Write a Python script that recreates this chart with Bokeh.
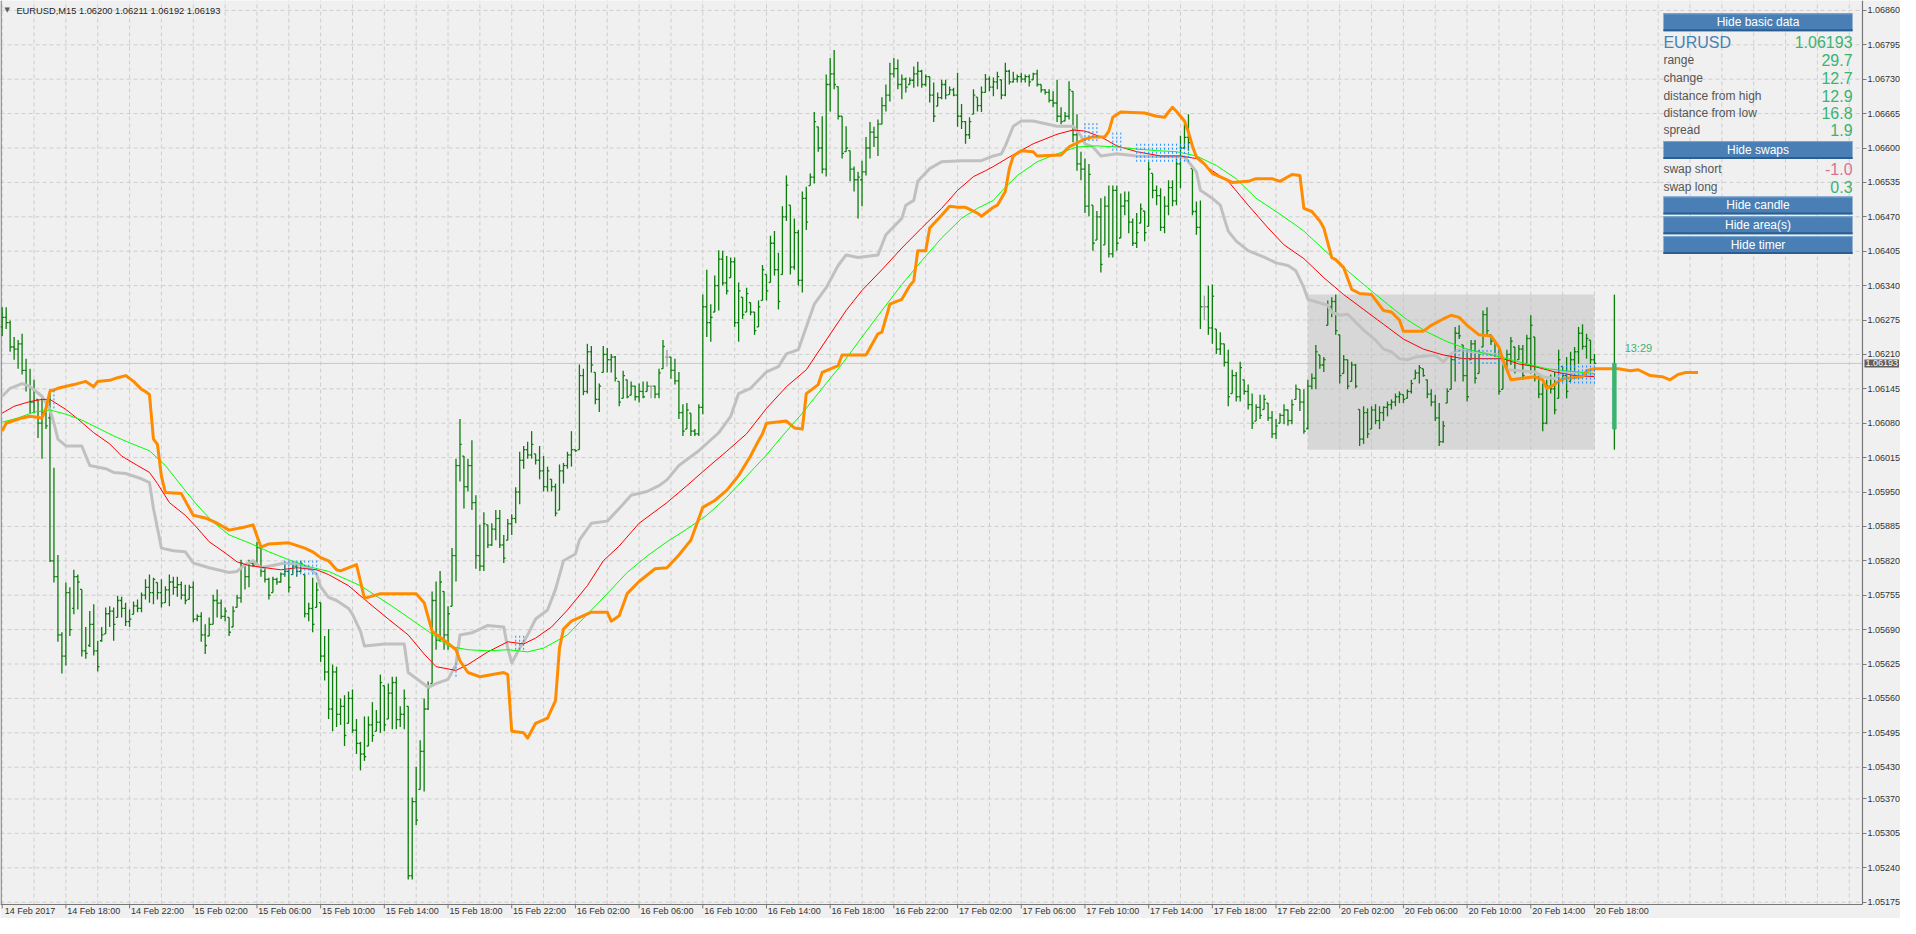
from bokeh.plotting import figure
from bokeh.models import (ColumnDataSource, FixedTicker, PrintfTickFormatter, Label, Range1d)
from bokeh.embed import file_html
from bokeh.resources import INLINE

# ---------------- data: EURUSD M15 bars (14 Feb 14:00 .. 20 Feb 18:00) ----------------
OPEN = [
1.06262,1.06280,1.06270,1.06224,1.06220,1.06230,1.06180,1.06150,1.06120,1.06125,
1.06080,1.06100,1.06090,1.05820,1.05790,1.05680,1.05640,1.05760,1.05730,1.05790,
1.05766,1.05650,1.05660,1.05700,1.05650,1.05669,1.05682,1.05720,1.05725,1.05713,
1.05745,1.05730,1.05705,1.05719,1.05735,1.05730,1.05755,1.05770,1.05760,1.05779,
1.05760,1.05741,1.05765,1.05780,1.05770,1.05775,1.05755,1.05747,1.05770,1.05710,
1.05715,1.05680,1.05678,1.05700,1.05745,1.05740,1.05715,1.05713,1.05695,1.05732,
1.05750,1.05813,1.05790,1.05815,1.05813,1.05844,1.05800,1.05785,1.05760,1.05785,
1.05780,1.05795,1.05800,1.05794,1.05810,1.05800,1.05794,1.05720,1.05730,1.05732,
1.05741,1.05640,1.05610,1.05540,1.05610,1.05530,1.05545,1.05513,1.05560,1.05500,
1.05475,1.05455,1.05470,1.05510,1.05498,1.05515,1.05584,1.05521,1.05570,1.05590,
1.05520,1.05530,1.05545,1.05225,1.05365,1.05388,1.05460,1.05540,1.05588,1.05745,
1.05670,1.05762,1.05680,1.05734,1.05830,1.06000,1.06018,1.05960,1.06000,1.05930,
1.05830,1.05810,1.05888,1.05850,1.05880,1.05900,1.05850,1.05859,1.05890,1.05900,
1.05950,1.06010,1.06030,1.06020,1.06022,1.06010,1.05990,1.05960,1.05974,1.05960,
1.05916,1.05990,1.06000,1.06020,1.06030,1.06030,1.06170,1.06140,1.06215,1.06176,
1.06125,1.06176,1.06210,1.06200,1.06205,1.06159,1.06127,1.06162,1.06133,1.06150,
1.06130,1.06140,1.06140,1.06150,1.06150,1.06135,1.06183,1.06205,1.06205,1.06180,
1.06160,1.06100,1.06069,1.06099,1.06065,1.06060,1.06110,1.06300,1.06270,1.06290,
1.06340,1.06390,1.06345,1.06355,1.06385,1.06270,1.06318,1.06290,1.06308,1.06290,
1.06262,1.06312,1.06361,1.06346,1.06420,1.06370,1.06361,1.06470,1.06492,1.06375,
1.06440,1.06350,1.06505,1.06529,1.06545,1.06640,1.06600,1.06560,1.06720,1.06740,
1.06716,1.06660,1.06593,1.06595,1.06560,1.06540,1.06540,1.06555,1.06600,1.06630,
1.06620,1.06645,1.06680,1.06700,1.06740,1.06750,1.06720,1.06730,1.06720,1.06728,
1.06740,1.06745,1.06720,1.06735,1.06700,1.06679,1.06695,1.06720,1.06701,1.06710,
1.06700,1.06660,1.06650,1.06625,1.06664,1.06696,1.06680,1.06705,1.06730,1.06715,
1.06725,1.06729,1.06700,1.06745,1.06725,1.06730,1.06735,1.06730,1.06735,1.06729,
1.06740,1.06720,1.06710,1.06705,1.06690,1.06685,1.06660,1.06651,1.06660,1.06707,
1.06625,1.06570,1.06560,1.06490,1.06492,1.06426,1.06470,1.06417,1.06490,1.06400,
1.06520,1.06430,1.06490,1.06500,1.06460,1.06420,1.06458,1.06481,1.06452,1.06552,
1.06520,1.06510,1.06450,1.06490,1.06525,1.06500,1.06570,1.06600,1.06620,1.06561,
1.06480,1.06450,1.06300,1.06300,1.06260,1.06258,1.06220,1.06230,1.06195,1.06136,
1.06170,1.06130,1.06162,1.06140,1.06115,1.06084,1.06110,1.06106,1.06118,1.06090,
1.06060,1.06080,1.06095,1.06105,1.06085,1.06125,1.06144,1.06120,1.06070,1.06150,
1.06165,1.06209,1.06190,1.06265,1.06300,1.06310,1.06247,1.06174,1.06200,1.06159,
1.06190,1.06106,1.06050,1.06100,1.06069,1.06105,1.06085,1.06100,1.06110,1.06115,
1.06120,1.06130,1.06134,1.06127,1.06140,1.06164,1.06175,1.06183,1.06162,1.06135,
1.06120,1.06090,1.06045,1.06118,1.06144,1.06200,1.06250,1.06228,1.06170,1.06200,
1.06230,1.06174,1.06224,1.06285,1.06247,1.06235,1.06210,1.06144,1.06190,1.06210,
1.06224,1.06200,1.06220,1.06192,1.06240,1.06243,1.06165,1.06135,1.06080,1.06150,
1.06145,1.06127,1.06187,1.06170,1.06159,1.06200,1.06215,1.06250,1.06225,1.06237,
1.06200]
HIGH = [
1.06299,1.06299,1.06274,1.06243,1.06237,1.06249,1.06202,1.06183,1.06162,1.06125,
1.06131,1.06121,1.06144,1.05996,1.05831,1.05685,1.05779,1.05770,1.05803,1.05794,
1.05766,1.05695,1.05725,1.05738,1.05669,1.05695,1.05732,1.05734,1.05732,1.05754,
1.05752,1.05741,1.05728,1.05743,1.05747,1.05760,1.05785,1.05794,1.05788,1.05779,
1.05785,1.05772,1.05794,1.05790,1.05790,1.05781,1.05775,1.05775,1.05781,1.05719,
1.05723,1.05700,1.05713,1.05756,1.05766,1.05747,1.05732,1.05713,1.05734,1.05756,
1.05822,1.05813,1.05822,1.05822,1.05856,1.05844,1.05807,1.05788,1.05790,1.05788,
1.05798,1.05813,1.05807,1.05817,1.05817,1.05820,1.05794,1.05741,1.05788,1.05779,
1.05741,1.05678,1.05691,1.05624,1.05620,1.05560,1.05566,1.05573,1.05577,1.05521,
1.05478,1.05526,1.05526,1.05553,1.05538,1.05605,1.05584,1.05588,1.05601,1.05601,
1.05545,1.05577,1.05545,1.05373,1.05431,1.05481,1.05560,1.05592,1.05762,1.05781,
1.05801,1.05762,1.05734,1.05844,1.06013,1.06088,1.06018,1.06013,1.06048,1.05944,
1.05888,1.05912,1.05888,1.05891,1.05916,1.05916,1.05869,1.05899,1.05908,1.05959,
1.06026,1.06037,1.06045,1.06065,1.06022,1.06037,1.06018,1.05998,1.05974,1.05966,
1.06002,1.06005,1.06026,1.06065,1.06030,1.06191,1.06183,1.06230,1.06226,1.06176,
1.06155,1.06226,1.06222,1.06211,1.06207,1.06159,1.06179,1.06162,1.06159,1.06151,
1.06155,1.06159,1.06159,1.06151,1.06151,1.06183,1.06237,1.06219,1.06205,1.06202,
1.06177,1.06116,1.06118,1.06099,1.06069,1.06116,1.06323,1.06370,1.06305,1.06359,
1.06407,1.06406,1.06396,1.06393,1.06393,1.06346,1.06318,1.06336,1.06308,1.06290,
1.06312,1.06379,1.06361,1.06434,1.06443,1.06402,1.06490,1.06548,1.06492,1.06467,
1.06445,1.06518,1.06527,1.06552,1.06668,1.06640,1.06660,1.06739,1.06770,1.06785,
1.06716,1.06660,1.06641,1.06595,1.06565,1.06555,1.06576,1.06621,1.06649,1.06640,
1.06654,1.06696,1.06720,1.06761,1.06770,1.06767,1.06739,1.06733,1.06733,1.06754,
1.06763,1.06748,1.06739,1.06735,1.06724,1.06705,1.06729,1.06729,1.06716,1.06714,
1.06742,1.06683,1.06651,1.06658,1.06711,1.06696,1.06716,1.06740,1.06735,1.06733,
1.06744,1.06729,1.06761,1.06748,1.06744,1.06739,1.06742,1.06739,1.06739,1.06742,
1.06748,1.06720,1.06711,1.06711,1.06707,1.06729,1.06677,1.06668,1.06726,1.06707,
1.06664,1.06593,1.06580,1.06570,1.06492,1.06481,1.06505,1.06509,1.06529,1.06529,
1.06529,1.06514,1.06518,1.06518,1.06467,1.06477,1.06495,1.06481,1.06574,1.06552,
1.06529,1.06524,1.06509,1.06539,1.06539,1.06580,1.06623,1.06645,1.06664,1.06561,
1.06499,1.06501,1.06321,1.06340,1.06342,1.06258,1.06252,1.06230,1.06219,1.06181,
1.06177,1.06196,1.06162,1.06153,1.06136,1.06116,1.06134,1.06134,1.06118,1.06103,
1.06088,1.06099,1.06116,1.06106,1.06125,1.06153,1.06144,1.06144,1.06162,1.06174,
1.06228,1.06209,1.06205,1.06312,1.06318,1.06323,1.06247,1.06209,1.06200,1.06196,
1.06192,1.06106,1.06112,1.06108,1.06112,1.06116,1.06112,1.06112,1.06121,1.06125,
1.06136,1.06140,1.06134,1.06144,1.06162,1.06181,1.06190,1.06183,1.06162,1.06144,
1.06134,1.06118,1.06084,1.06146,1.06211,1.06262,1.06265,1.06228,1.06219,1.06237,
1.06237,1.06219,1.06293,1.06299,1.06247,1.06237,1.06219,1.06202,1.06219,1.06243,
1.06224,1.06228,1.06228,1.06247,1.06284,1.06243,1.06174,1.06155,1.06162,1.06172,
1.06177,1.06219,1.06187,1.06205,1.06215,1.06224,1.06262,1.06267,1.06249,1.06237,
1.06211]
LOW = [
1.06245,1.06258,1.06215,1.06200,1.06183,1.06172,1.06140,1.06099,1.06099,1.06052,
1.06013,1.06069,1.05818,1.05779,1.05667,1.05607,1.05622,1.05678,1.05719,1.05728,
1.05639,1.05635,1.05657,1.05641,1.05611,1.05667,1.05682,1.05695,1.05669,1.05713,
1.05713,1.05697,1.05695,1.05719,1.05723,1.05723,1.05747,1.05741,1.05738,1.05747,
1.05732,1.05741,1.05734,1.05756,1.05752,1.05747,1.05738,1.05747,1.05704,1.05706,
1.05667,1.05644,1.05678,1.05700,1.05713,1.05710,1.05706,1.05678,1.05695,1.05732,
1.05741,1.05766,1.05770,1.05809,1.05813,1.05790,1.05779,1.05747,1.05760,1.05775,
1.05779,1.05790,1.05760,1.05794,1.05790,1.05798,1.05713,1.05706,1.05685,1.05732,
1.05629,1.05594,1.05521,1.05498,1.05506,1.05510,1.05470,1.05513,1.05495,1.05455,
1.05424,1.05442,1.05470,1.05478,1.05498,1.05495,1.05498,1.05521,1.05502,1.05502,
1.05506,1.05502,1.05218,1.05218,1.05321,1.05388,1.05384,1.05538,1.05588,1.05652,
1.05667,1.05652,1.05652,1.05734,1.05781,1.05970,1.05919,1.05951,1.05916,1.05805,
1.05801,1.05801,1.05844,1.05848,1.05859,1.05844,1.05816,1.05859,1.05869,1.05891,
1.05927,1.05994,1.06013,1.06013,1.06002,1.05974,1.05951,1.05951,1.05951,1.05904,
1.05916,1.05966,1.05994,1.05998,1.06026,1.06030,1.06133,1.06136,1.06176,1.06116,
1.06101,1.06176,1.06176,1.06176,1.06159,1.06112,1.06127,1.06127,1.06133,1.06123,
1.06119,1.06127,1.06140,1.06127,1.06127,1.06127,1.06183,1.06187,1.06164,1.06153,
1.06088,1.06056,1.06069,1.06056,1.06056,1.06056,1.06097,1.06243,1.06234,1.06290,
1.06293,1.06340,1.06323,1.06355,1.06262,1.06234,1.06277,1.06290,1.06284,1.06247,
1.06262,1.06312,1.06312,1.06346,1.06359,1.06295,1.06361,1.06462,1.06361,1.06370,
1.06340,1.06327,1.06445,1.06529,1.06533,1.06593,1.06552,1.06546,1.06669,1.06711,
1.06654,1.06580,1.06593,1.06537,1.06518,1.06467,1.06490,1.06548,1.06580,1.06602,
1.06585,1.06645,1.06669,1.06688,1.06733,1.06711,1.06692,1.06705,1.06720,1.06714,
1.06716,1.06714,1.06716,1.06686,1.06649,1.06679,1.06692,1.06692,1.06701,1.06698,
1.06640,1.06636,1.06608,1.06617,1.06664,1.06669,1.06668,1.06705,1.06707,1.06698,
1.06711,1.06692,1.06698,1.06720,1.06724,1.06724,1.06724,1.06724,1.06716,1.06729,
1.06716,1.06705,1.06701,1.06686,1.06677,1.06649,1.06645,1.06651,1.06654,1.06611,
1.06557,1.06539,1.06477,1.06471,1.06406,1.06426,1.06365,1.06417,1.06393,1.06393,
1.06406,1.06430,1.06473,1.06439,1.06415,1.06411,1.06458,1.06424,1.06452,1.06505,
1.06492,1.06443,1.06439,1.06473,1.06490,1.06492,1.06524,1.06598,1.06595,1.06473,
1.06436,1.06258,1.06275,1.06247,1.06230,1.06211,1.06209,1.06187,1.06112,1.06136,
1.06121,1.06121,1.06134,1.06106,1.06069,1.06084,1.06088,1.06106,1.06084,1.06052,
1.06050,1.06080,1.06078,1.06075,1.06078,1.06125,1.06103,1.06060,1.06068,1.06144,
1.06144,1.06183,1.06177,1.06265,1.06280,1.06247,1.06155,1.06174,1.06144,1.06159,
1.06146,1.06037,1.06041,1.06052,1.06069,1.06078,1.06069,1.06084,1.06093,1.06106,
1.06112,1.06118,1.06118,1.06127,1.06136,1.06164,1.06155,1.06168,1.06127,1.06112,
1.06084,1.06037,1.06043,1.06118,1.06144,1.06159,1.06239,1.06159,1.06121,1.06200,
1.06155,1.06174,1.06224,1.06243,1.06228,1.06205,1.06134,1.06144,1.06181,1.06190,
1.06174,1.06200,1.06162,1.06192,1.06174,1.06159,1.06127,1.06065,1.06078,1.06136,
1.06097,1.06127,1.06159,1.06127,1.06159,1.06164,1.06192,1.06219,1.06202,1.06192,
1.06192]
CLOSE = [
1.06280,1.06270,1.06224,1.06220,1.06230,1.06180,1.06150,1.06120,1.06140,1.06080,
1.06100,1.06075,1.05820,1.05790,1.05680,1.05640,1.05760,1.05690,1.05790,1.05780,
1.05650,1.05645,1.05700,1.05650,1.05620,1.05680,1.05720,1.05725,1.05700,1.05745,
1.05730,1.05705,1.05710,1.05735,1.05730,1.05755,1.05770,1.05760,1.05785,1.05760,
1.05740,1.05765,1.05780,1.05770,1.05775,1.05755,1.05745,1.05770,1.05710,1.05715,
1.05680,1.05660,1.05700,1.05745,1.05740,1.05715,1.05725,1.05685,1.05725,1.05750,
1.05815,1.05790,1.05815,1.05812,1.05845,1.05800,1.05785,1.05755,1.05785,1.05780,
1.05795,1.05800,1.05770,1.05810,1.05800,1.05815,1.05720,1.05730,1.05700,1.05765,
1.05640,1.05610,1.05540,1.05610,1.05530,1.05545,1.05490,1.05560,1.05500,1.05475,
1.05455,1.05450,1.05510,1.05490,1.05515,1.05590,1.05510,1.05570,1.05590,1.05520,
1.05530,1.05560,1.05225,1.05365,1.05330,1.05460,1.05540,1.05580,1.05745,1.05670,
1.05780,1.05680,1.05720,1.05830,1.06000,1.06040,1.05960,1.06000,1.05930,1.05830,
1.05810,1.05890,1.05850,1.05880,1.05900,1.05850,1.05825,1.05890,1.05900,1.05950,
1.06010,1.06030,1.06020,1.06040,1.06010,1.05990,1.05960,1.05990,1.05960,1.05910,
1.05990,1.06000,1.06020,1.06030,1.06028,1.06170,1.06140,1.06215,1.06190,1.06125,
1.06150,1.06210,1.06200,1.06205,1.06165,1.06120,1.06170,1.06130,1.06150,1.06130,
1.06140,1.06130,1.06150,1.06150,1.06135,1.06175,1.06225,1.06205,1.06180,1.06160,
1.06100,1.06065,1.06105,1.06065,1.06060,1.06110,1.06300,1.06270,1.06280,1.06340,
1.06390,1.06345,1.06330,1.06385,1.06270,1.06330,1.06285,1.06325,1.06290,1.06255,
1.06300,1.06370,1.06330,1.06420,1.06370,1.06310,1.06470,1.06530,1.06375,1.06440,
1.06350,1.06505,1.06460,1.06545,1.06650,1.06600,1.06560,1.06720,1.06740,1.06720,
1.06660,1.06590,1.06600,1.06560,1.06540,1.06545,1.06555,1.06600,1.06630,1.06620,
1.06645,1.06680,1.06700,1.06740,1.06750,1.06720,1.06730,1.06715,1.06728,1.06740,
1.06745,1.06720,1.06735,1.06700,1.06660,1.06695,1.06720,1.06700,1.06710,1.06700,
1.06660,1.06650,1.06625,1.06650,1.06700,1.06680,1.06705,1.06730,1.06715,1.06725,
1.06735,1.06700,1.06745,1.06725,1.06730,1.06735,1.06730,1.06735,1.06725,1.06740,
1.06720,1.06710,1.06705,1.06690,1.06685,1.06660,1.06650,1.06660,1.06710,1.06625,
1.06570,1.06560,1.06490,1.06550,1.06420,1.06470,1.06380,1.06490,1.06400,1.06520,
1.06420,1.06490,1.06500,1.06460,1.06420,1.06440,1.06485,1.06440,1.06560,1.06520,
1.06510,1.06450,1.06490,1.06525,1.06500,1.06570,1.06600,1.06620,1.06610,1.06480,
1.06450,1.06300,1.06300,1.06260,1.06320,1.06220,1.06230,1.06195,1.06130,1.06170,
1.06130,1.06185,1.06140,1.06115,1.06080,1.06110,1.06095,1.06125,1.06090,1.06060,
1.06075,1.06095,1.06105,1.06085,1.06115,1.06145,1.06120,1.06065,1.06150,1.06165,
1.06215,1.06190,1.06200,1.06300,1.06310,1.06255,1.06170,1.06200,1.06150,1.06190,
1.06150,1.06050,1.06100,1.06060,1.06105,1.06085,1.06100,1.06110,1.06115,1.06120,
1.06130,1.06135,1.06125,1.06140,1.06155,1.06175,1.06185,1.06170,1.06135,1.06120,
1.06090,1.06045,1.06075,1.06140,1.06200,1.06250,1.06245,1.06170,1.06130,1.06230,
1.06165,1.06210,1.06285,1.06255,1.06235,1.06210,1.06140,1.06190,1.06210,1.06235,
1.06180,1.06220,1.06170,1.06240,1.06265,1.06165,1.06135,1.06080,1.06150,1.06145,
1.06105,1.06200,1.06170,1.06140,1.06200,1.06215,1.06250,1.06225,1.06240,1.06200,
1.06193]

# time-axis labels, one every 16 bars (4 hours)
DATE_LABELS = ["14 Feb 2017", "14 Feb 18:00", "14 Feb 22:00", "15 Feb 02:00", "15 Feb 06:00",
               "15 Feb 10:00", "15 Feb 14:00", "15 Feb 18:00", "15 Feb 22:00", "16 Feb 02:00",
               "16 Feb 06:00", "16 Feb 10:00", "16 Feb 14:00", "16 Feb 18:00", "16 Feb 22:00",
               "17 Feb 02:00", "17 Feb 06:00", "17 Feb 10:00", "17 Feb 14:00", "17 Feb 18:00",
               "17 Feb 22:00", "20 Feb 02:00", "20 Feb 06:00", "20 Feb 10:00", "20 Feb 14:00",
               "20 Feb 18:00"]
PRICE_TICKS = [1.06860, 1.06795, 1.06730, 1.06665, 1.06600, 1.06535, 1.06470, 1.06405, 1.06340,
               1.06275, 1.06210, 1.06145, 1.06080, 1.06015, 1.05950, 1.05885, 1.05820, 1.05755,
               1.05690, 1.05625, 1.05560, 1.05495, 1.05430, 1.05370, 1.05305, 1.05240, 1.05175]

# indicator lines (bar index, price)
GRAY_I = [0,2,5,7,10,12,13,14,16,20,22,26,28,31,35,37,38,39,40,43,46,48,52,57,59,61,63,65,71,74,
          77,79,80,82,84,87,88,90,91,96,101,102,107,109,112,114,115,118,122,126,127,128,130,132,134,
          137,139,141,144,145,148,152,155,158,162,165,167,170,175,180,183,185,188,192,195,197,200,
          202,204,207,210,212,215,220,222,226,227,229,230,233,236,241,246,249,251,252,254,256,259,
          265,269,271,272,274,276,280,285,297,298,300,301,304,306,307,308,310,313,317,320,323,325,
          327,328,333,334,336,338,340,342,345,347,349,351,353,355,360,362,364,366,373,376,378,385,
          387,390,392,397,400]
GRAY_V = [1.06131,1.06146,1.06155,1.06149,1.06131,1.06106,1.06080,1.06050,1.06037,1.06037,
          1.06000,1.05994,1.05987,1.05985,1.05975,1.05968,1.05919,1.05882,1.05844,1.05839,
          1.05837,1.05816,1.05807,1.05798,1.05800,1.05813,1.05820,1.05807,1.05816,1.05814,
          1.05807,1.05794,1.05771,1.05751,1.05745,1.05730,1.05719,1.05687,1.05659,1.05663,
          1.05663,1.05609,1.05581,1.05588,1.05596,1.05624,1.05680,1.05684,1.05698,1.05695,
          1.05655,1.05627,1.05655,1.05680,1.05710,1.05727,1.05766,1.05820,1.05833,1.05859,
          1.05891,1.05895,1.05919,1.05944,1.05951,1.05962,1.05973,1.06000,1.06028,1.06062,
          1.06093,1.06136,1.06146,1.06177,1.06187,1.06211,1.06219,1.06262,1.06305,1.06336,
          1.06378,1.06398,1.06393,1.06398,1.06436,1.06467,1.06492,1.06501,1.06537,1.06561,
          1.06574,1.06576,1.06576,1.06585,1.06589,1.06604,1.06641,1.06651,1.06651,1.06641,
          1.06641,1.06623,1.06608,1.06602,1.06585,1.06589,1.06585,1.06583,1.06574,1.06555,
          1.06520,1.06505,1.06492,1.06467,1.06443,1.06424,1.06406,1.06394,1.06383,1.06378,
          1.06368,1.06336,1.06314,1.06303,1.06290,1.06284,1.06286,1.06271,1.06256,1.06237,
          1.06220,1.06215,1.06202,1.06200,1.06205,1.06209,1.06196,1.06211,1.06219,1.06211,
          1.06209,1.06181,1.06177,1.06168,1.06164,1.06177,1.06174,1.06172]
RED_I = [0,3,7,10,12,16,19,23,27,30,34,37,39,42,46,49,52,56,59,62,66,70,74,79,82,87,92,97,102,106,
         109,114,117,122,127,131,134,138,142,147,151,155,160,167,172,177,182,187,192,197,202,207,
         212,216,221,226,231,236,240,244,247,249,253,259,265,269,272,276,280,285,291,296,300,304,
         308,313,318,322,327,332,337,342,347,352,357,362,367,372,377,381,385,390,395,400]
RED_V = [1.06099,1.06112,1.06121,1.06125,1.06125,1.06106,1.06088,1.06062,1.06041,1.06018,
         1.06000,1.05987,1.05966,1.05930,1.05906,1.05882,1.05856,1.05835,1.05818,1.05811,
         1.05807,1.05803,1.05807,1.05803,1.05794,1.05773,1.05741,1.05710,1.05680,1.05644,
         1.05620,1.05613,1.05624,1.05648,1.05667,1.05663,1.05674,1.05695,1.05727,1.05773,
         1.05820,1.05848,1.05891,1.05930,1.05962,1.05995,1.06027,1.06060,1.06108,1.06149,
         1.06181,1.06237,1.06293,1.06331,1.06370,1.06411,1.06449,1.06486,1.06520,1.06546,
         1.06557,1.06565,1.06583,1.06608,1.06626,1.06634,1.06632,1.06621,1.06604,1.06593,
         1.06585,1.06585,1.06580,1.06557,1.06537,1.06492,1.06449,1.06417,1.06391,1.06355,
         1.06323,1.06295,1.06267,1.06239,1.06220,1.06209,1.06202,1.06202,1.06202,1.06192,
         1.06187,1.06177,1.06170,1.06168]
GREEN_I = [0,4,8,12,16,20,24,28,32,37,41,45,49,53,57,62,67,72,77,82,90,98,107,112,117,122,127,132,
           136,142,147,152,157,162,167,172,177,182,187,192,196,201,206,211,216,221,226,231,236,241,
           245,249,251,255,260,265,270,275,280,285,290,295,300,305,310,315,320,325,327,332,337,343,
           348,353,358,363,368,373,378,383,388,393,400]
GREEN_V = [1.06082,1.06090,1.06101,1.06105,1.06097,1.06086,1.06071,1.06056,1.06043,1.06028,
           1.06000,1.05962,1.05925,1.05893,1.05869,1.05854,1.05837,1.05822,1.05809,1.05800,
           1.05773,1.05734,1.05687,1.05659,1.05652,1.05650,1.05652,1.05648,1.05655,1.05680,
           1.05719,1.05758,1.05798,1.05829,1.05856,1.05880,1.05906,1.05940,1.05980,1.06020,
           1.06056,1.06099,1.06146,1.06192,1.06243,1.06293,1.06342,1.06387,1.06430,1.06467,
           1.06486,1.06501,1.06518,1.06548,1.06574,1.06589,1.06602,1.06604,1.06602,1.06598,
           1.06595,1.06593,1.06585,1.06567,1.06542,1.06505,1.06480,1.06454,1.06443,1.06408,
           1.06374,1.06336,1.06305,1.06275,1.06252,1.06234,1.06220,1.06211,1.06202,1.06192,
           1.06183,1.06179,1.06174]
ORANGE_I = [0,1,5,7,10,11,12,14,18,21,23,24,27,29,31,33,35,36,37,38,39,40,41,45,48,51,54,57,61,63,
            65,67,72,76,78,80,82,84,85,89,91,95,104,106,108,111,114,115,117,120,126,127,128,131,132,
            134,137,139,140,141,143,148,152,153,155,157,160,164,167,170,173,176,179,182,185,188,190,
            191,192,197,199,201,202,205,206,210,211,217,220,221,223,226,228,229,230,232,233,236,238,
            240,242,245,246,249,250,252,253,254,256,259,260,266,268,272,274,277,278,279,281,287,290,
            292,293,294,295,297,298,299,300,302,304,307,309,313,315,319,321,324,326,327,329,331,332,
            334,335,337,339,341,344,347,349,351,352,357,359,362,364,366,368,371,374,376,377,379,381,
            385,387,388,389,391,392,397,398,400,406,409,411,414,417,419,421,423,426]
ORANGE_V = [1.06065,1.06080,1.06090,1.06093,1.06090,1.06108,1.06140,1.06146,1.06153,1.06159,
            1.06149,1.06159,1.06161,1.06166,1.06170,1.06159,1.06144,1.06140,1.06134,1.06050,
            1.06040,1.05980,1.05949,1.05947,1.05906,1.05901,1.05891,1.05878,1.05884,1.05888,
            1.05846,1.05852,1.05854,1.05844,1.05837,1.05826,1.05820,1.05803,1.05801,1.05813,
            1.05749,1.05758,1.05758,1.05741,1.05687,1.05670,1.05652,1.05631,1.05609,1.05601,
            1.05609,1.05605,1.05498,1.05495,1.05485,1.05513,1.05523,1.05556,1.05655,1.05691,
            1.05706,1.05723,1.05723,1.05706,1.05716,1.05758,1.05781,1.05805,1.05807,1.05831,
            1.05859,1.05921,1.05934,1.05953,1.05981,1.06018,1.06047,1.06060,1.06080,1.06084,
            1.06071,1.06069,1.06136,1.06153,1.06176,1.06189,1.06209,1.06209,1.06249,1.06252,
            1.06305,1.06314,1.06340,1.06349,1.06406,1.06406,1.06449,1.06473,1.06490,1.06488,
            1.06488,1.06477,1.06471,1.06488,1.06492,1.06518,1.06561,1.06585,1.06595,1.06593,
            1.06585,1.06587,1.06602,1.06617,1.06621,1.06621,1.06632,1.06658,1.06668,1.06666,
            1.06660,1.06658,1.06668,1.06677,1.06669,1.06651,1.06630,1.06604,1.06583,1.06570,
            1.06552,1.06542,1.06535,1.06537,1.06542,1.06542,1.06537,1.06550,1.06548,1.06486,
            1.06480,1.06462,1.06449,1.06393,1.06389,1.06374,1.06333,1.06325,1.06323,1.06293,
            1.06290,1.06275,1.06254,1.06254,1.06265,1.06277,1.06284,1.06280,1.06265,1.06247,
            1.06245,1.06224,1.06200,1.06162,1.06164,1.06168,1.06162,1.06146,1.06149,1.06159,
            1.06164,1.06168,1.06179,1.06183,1.06183,1.06179,1.06181,1.06170,1.06168,1.06162,
            1.06172,1.06176,1.06176]

# dotted signal histogram: groups of bars (first, last) with top/bottom price
DOT_FIRST = [13, 71, 114, 129, 272, 279, 285, 365, 391]
DOT_LAST = [13, 79, 114, 131, 275, 281, 298, 376, 400]
DOT_TOP = [1.06144, 1.05822, 1.05627, 1.05680, 1.06649, 1.06630, 1.06611, 1.06220, 1.06190]
DOT_BOT = [1.06108, 1.05794, 1.05601, 1.05652, 1.06613, 1.06595, 1.06574, 1.06192, 1.06155]

# today's area, daily candle, timer
AREA_FIRST, AREA_LAST = 328, 400
DAY_OPEN, DAY_HIGH, DAY_LOW = 1.06069, 1.06323, 1.06030
CANDLE_BAR = 405
TIMER_TEXT = "13:29"

# info panel
SYMBOL = "EURUSD"
INFO_LABELS = ["range", "change", "distance from high", "distance from low", "spread"]
INFO_VALUES = ["29.7", "12.7", "12.9", "16.8", "1.9"]
SWAP_LABELS = ["swap short", "swap long"]
SWAP_VALUES = ["-1.0", "0.3"]
BUTTONS = ["Hide basic data", "Hide swaps", "Hide candle", "Hide area(s)", "Hide timer"]

for arr in (HIGH, LOW, CLOSE):
    assert len(arr) == len(OPEN), (len(OPEN), len(arr))
assert len(GRAY_I) == len(GRAY_V) and len(RED_I) == len(RED_V)
assert len(GREEN_I) == len(GREEN_V) and len(ORANGE_I) == len(ORANGE_V)

# ---------------- layout helpers (reference pixel -> data coordinates) ----------------
def px_x(px):
    return (px - 3.7) / 4.0

def px_y(py):
    return 1.068787 - py * 1.8708e-5

FONT = "Liberation Sans"
BG = "#F0F0F0"
BAR_COLOR = "#0B7D0B"
AX = "#787878"
GRID = "#CDCDCD"

# chart box (price window) inside the plotting frame; the price-scale and time-scale
# strips are part of the frame, the real axes are pinned to the chart box edges
XL, XR = px_x(2), px_x(1873)
YB, YT = px_y(913), px_y(0)

p = figure(width=1900, height=918, output_backend="svg", toolbar_location=None,
           x_range=Range1d(XL, px_x(1911.2)), y_range=Range1d(px_y(927.15), YT),
           y_axis_location="right", min_border_left=0, min_border_right=0,
           min_border_top=0, min_border_bottom=0,
           background_fill_color=BG, border_fill_color=BG, outline_line_color=None)
p.grid.visible = False

# price axis, pinned to the right edge of the chart box
p.yaxis.fixed_location = XR
p.yaxis.ticker = FixedTicker(ticks=PRICE_TICKS)
p.yaxis.formatter = PrintfTickFormatter(format="%.5f")
p.yaxis.major_label_text_font = FONT
p.yaxis.major_label_text_font_size = "9px"
p.yaxis.major_label_text_color = "#333333"
p.yaxis.major_label_standoff = 1
p.yaxis.major_tick_out = 4
p.yaxis.major_tick_in = 0
p.yaxis.major_tick_line_color = AX
p.yaxis.minor_tick_line_color = None
p.yaxis.axis_line_color = None

# time axis, pinned to the bottom of the chart box; labels right of each tick (MT4 style)
LABEL_SHIFT = 7
date_ticks = [16 * k for k in range(len(DATE_LABELS))]
label_pos = [t + LABEL_SHIFT for t in date_ticks]
p.xaxis.fixed_location = YB
p.xaxis.ticker = FixedTicker(ticks=label_pos)
p.xaxis.major_label_overrides = {pos: lab for pos, lab in zip(label_pos, DATE_LABELS)}
p.xaxis.major_label_text_font = FONT
p.xaxis.major_label_text_font_size = "9px"
p.xaxis.major_label_text_color = "#333333"
p.xaxis.major_tick_out = 0
p.xaxis.major_tick_in = 0
p.xaxis.major_tick_line_color = None
p.xaxis.minor_tick_line_color = None
p.xaxis.major_label_standoff = 2
p.xaxis.axis_line_color = None

# grid (dashed), limited to the chart box
grid_x = list(range(0, 466, 8))
p.segment(x0=grid_x, y0=[YB] * len(grid_x), x1=grid_x, y1=[YT] * len(grid_x),
          line_color=GRID, line_width=1, line_dash="4 3", level="underlay")
p.segment(x0=[XL] * len(PRICE_TICKS), y0=PRICE_TICKS, x1=[XR] * len(PRICE_TICKS), y1=PRICE_TICKS,
          line_color=GRID, line_width=1, line_dash="4 3", level="underlay")

# current bid line
p.segment(x0=[XL], y0=[CLOSE[-1]], x1=[XR], y1=[CLOSE[-1]], line_color="#C8C8C8",
          line_width=1, level="underlay")

# chart box border and time tick marks
p.segment(x0=[px_x(2.6), XL, XR], y0=[YB, YB, YB], x1=[px_x(2.6), XR, XR], y1=[YT, YB, YT],
          line_color=AX, line_width=1.2)
p.segment(x0=date_ticks, y0=[YB] * len(date_ticks), x1=date_ticks,
          y1=[px_y(917)] * len(date_ticks), line_color=AX, line_width=1)

# today's range area
p.quad(left=[AREA_FIRST], right=[AREA_LAST], top=[DAY_HIGH], bottom=[DAY_LOW],
       fill_color="#BEBEBE", fill_alpha=0.5, line_color=None)

# OHLC bars
n = len(OPEN)
idx = list(range(n))
bar_cols = ["#A0A0A0" if o == c else BAR_COLOR for o, c in zip(OPEN, CLOSE)]
src = ColumnDataSource(dict(x=idx, xl=[i - 0.45 for i in idx], xr=[i + 0.45 for i in idx],
                            o=OPEN, h=HIGH, l=LOW, c=CLOSE, col=bar_cols))
p.segment(x0="x", y0="l", x1="x", y1="h", source=src, line_color="col", line_width=1.3)
p.segment(x0="xl", y0="o", x1="x", y1="o", source=src, line_color="col", line_width=1.3)
p.segment(x0="x", y0="c", x1="xr", y1="c", source=src, line_color="col", line_width=1.3)

# indicator lines
p.line(GRAY_I, GRAY_V, line_color="#C0C0C0", line_width=3, line_join="round")
p.line(RED_I, RED_V, line_color="#FF0000", line_width=1)
p.line(GREEN_I, GREEN_V, line_color="#00FF00", line_width=1)
p.line(ORANGE_I, ORANGE_V, line_color="#FF8C00", line_width=3, line_join="round")

dx, dt, db = [], [], []
for f, l, t, b in zip(DOT_FIRST, DOT_LAST, DOT_TOP, DOT_BOT):
    for i in range(f, l + 1):
        dx.append(i); dt.append(t); db.append(b)
p.segment(x0=dx, y0=db, x1=dx, y1=dt, line_color="#1E90FF", line_width=1, line_dash="2 2")

# daily candle
p.segment(x0=[CANDLE_BAR], y0=[DAY_LOW], x1=[CANDLE_BAR], y1=[DAY_HIGH],
          line_color=BAR_COLOR, line_width=1.3)
p.vbar(x=[CANDLE_BAR], width=0.85, bottom=[DAY_OPEN], top=[CLOSE[-1]],
       fill_color="#3CB371", line_color="#3CB371")

# timer
p.add_layout(Label(x=px_x(1634), y=px_y(351), text=TIMER_TEXT, text_font=FONT,
                   text_font_size="11px", text_color="#3CB371", text_baseline="middle"))

# title
p.add_layout(Label(x=px_x(6), y=px_y(10), text="\u25BC", text_font="DejaVu Sans",
                   text_font_size="7px", text_color="#5A5A5A", text_baseline="middle"))
title = "%s,M15  %.5f %.5f %.5f %.5f" % (SYMBOL, OPEN[-1], HIGH[-1], LOW[-1], CLOSE[-1])
p.add_layout(Label(x=px_x(18), y=px_y(11), text=title, text_font=FONT,
                   text_font_size="9.3px", text_color="#262626", text_baseline="middle"))

# current price tag on the price scale
p.add_layout(Label(x=px_x(1875), y=CLOSE[-1], text="%.5f" % CLOSE[-1], text_font=FONT,
                   text_font_size="9px", text_color="#FFFFFF", text_baseline="middle",
                   background_fill_color="#5E5E5E", padding=1))

# info panel
PX_L, PX_R = 1673, 1863
btn_tops = [13, 142, 198, 218, 238]
for txt, top in zip(BUTTONS, btn_tops):
    p.quad(left=[px_x(PX_L)], right=[px_x(PX_R)], top=[px_y(top)], bottom=[px_y(top + 18)],
           fill_color="#4A7FB5", line_color=None)
    p.segment(x0=[px_x(PX_L)], y0=[px_y(top + 17)], x1=[px_x(PX_R)], y1=[px_y(top + 17)],
              line_color="#2B5E90", line_width=2)
    p.segment(x0=[px_x(PX_L)], y0=[px_y(top + 0.5)], x1=[px_x(PX_R)], y1=[px_y(top + 0.5)],
              line_color="#7BA7D3", line_width=1)
    p.add_layout(Label(x=px_x((PX_L + PX_R) / 2), y=px_y(top + 9), text=txt, text_font=FONT,
                       text_font_size="12px", text_color="#FFFFFF", text_align="center",
                       text_baseline="middle"))

p.add_layout(Label(x=px_x(PX_L), y=px_y(42), text=SYMBOL, text_font=FONT,
                   text_font_size="16px", text_color="#4682B4", text_baseline="middle"))
p.add_layout(Label(x=px_x(PX_R), y=px_y(42), text="%.5f" % CLOSE[-1], text_font=FONT,
                   text_font_size="16px", text_color="#3CB371", text_baseline="middle",
                   text_align="right"))
row_y = [60, 78, 96, 113.5, 131]
for lab, val, yy in zip(INFO_LABELS, INFO_VALUES, row_y):
    p.add_layout(Label(x=px_x(PX_L), y=px_y(yy), text=lab, text_font=FONT,
                       text_font_size="12px", text_color="#555555", text_baseline="middle"))
    p.add_layout(Label(x=px_x(PX_R), y=px_y(yy), text=val, text_font=FONT,
                       text_font_size="16px", text_color="#3CB371", text_baseline="middle",
                       text_align="right"))
swap_y = [170, 188]
swap_cols = ["#DB7093", "#3CB371"]
for lab, val, yy, col in zip(SWAP_LABELS, SWAP_VALUES, swap_y, swap_cols):
    p.add_layout(Label(x=px_x(PX_L), y=px_y(yy), text=lab, text_font=FONT,
                       text_font_size="12px", text_color="#555555", text_baseline="middle"))
    p.add_layout(Label(x=px_x(PX_R), y=px_y(yy), text=val, text_font=FONT,
                       text_font_size="16px", text_color=col, text_baseline="middle",
                       text_align="right"))

open("out.html", "w").write(file_html(p, INLINE))
